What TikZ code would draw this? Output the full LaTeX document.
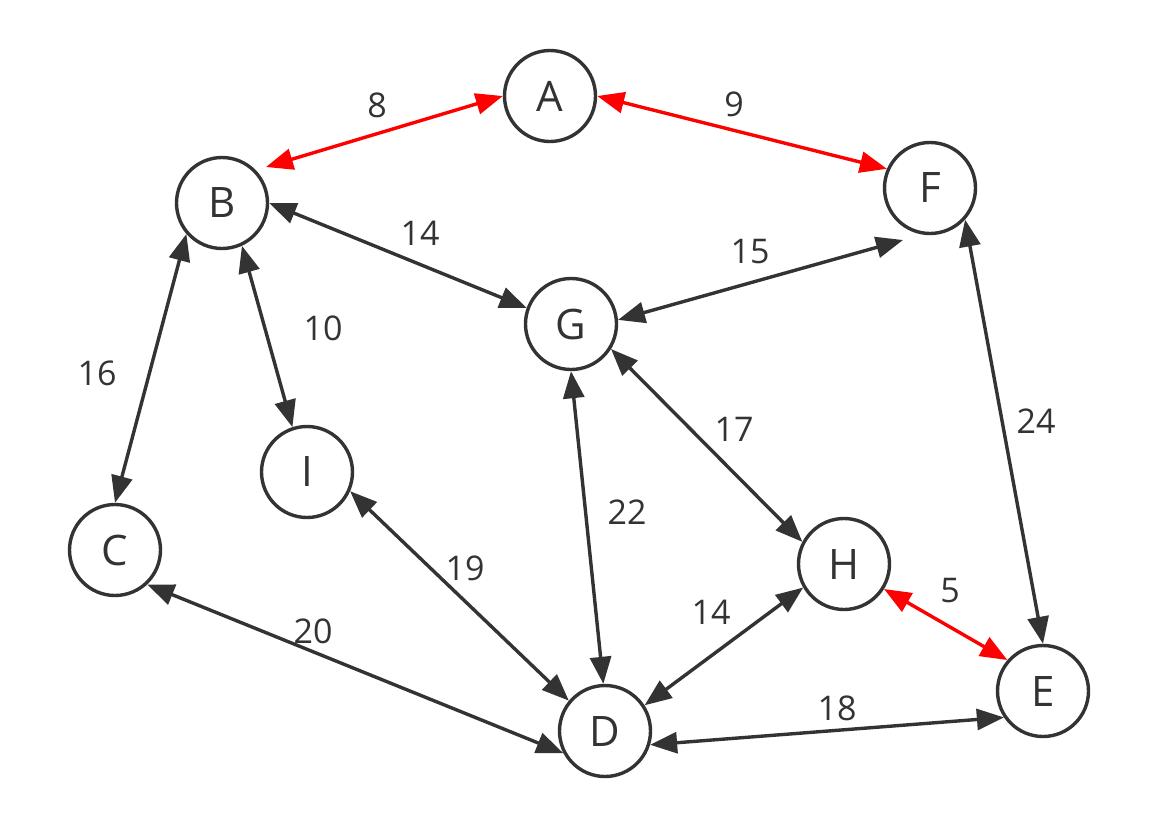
\documentclass[tikz,border=0pt]{standalone}
\usepackage{fontspec}
\setmainfont{Open Sans}
\usetikzlibrary{arrows.meta}
\definecolor{ink}{HTML}{333333}
\definecolor{hot}{HTML}{FF0000}
\begin{document}
\begin{tikzpicture}[x=1pt,y=-1pt,
  vert/.style={circle, draw=ink, line width=3.4pt, minimum size=91pt, inner sep=0pt, text=ink, font=\fontsize{42}{42}\selectfont},
  lbl/.style={text=ink, font=\fontsize{34}{34}\selectfont, inner sep=0pt},
  link/.style={draw=ink, line width=3.4pt, {Triangle[length=27pt,width=21pt]}-{Triangle[length=27pt,width=21pt]}},
  hotlink/.style={link, draw=hot}]
\useasboundingbox[fill=white] (0,0) rectangle (1154,828);
% vertices
\node[vert] (A) at (550,96) {A};
\node[vert] (B) at (222,203) {B};
\node[vert] (F) at (930,188) {F};
\node[vert] (G) at (571,324) {G};
\node[vert] (I) at (307,472) {I};
\node[vert] (C) at (115,550) {C};
\node[vert] (H) at (844,564) {H};
\node[vert] (D) at (605,731) {D};
\node[vert] (E) at (1043,691) {E};
% free ends
\coordinate (ba) at (266,167);
\coordinate (fg) at (903,240);
% edges
\draw[hotlink] (ba) -- (A.180);
\draw[hotlink] (A.0) -- (F.156);
\draw[link] (B.0) -- (G.160);
\draw[link] (G.5) -- (fg);
\draw[link] (B.221) -- (C.90);
\draw[link] (B.-65) -- (I.108);
\draw[link] (G.-90) -- (D.92);
\draw[link] (G.-32) -- (H.152);
\draw[link] (F.-42) -- (E.90);
\draw[link] (C.-47) -- (D.208);
\draw[link] (I.-24) -- (D.140);
\draw[link] (H.210) -- (D.33);
\draw[link] (D.-17) -- (E.-146);
\draw[hotlink] (H.-32) -- (E.139);
% labels
\node[lbl] (l8) at (377,105) {8};
\node[lbl] (l9) at (734,104) {9};
\node[lbl] (l14a) at (420,233) {14};
\node[lbl] (l15) at (750,252) {15};
\node[lbl] (l10) at (323,328) {10};
\node[lbl] (l16) at (97,373) {16};
\node[lbl] (l17) at (734,429) {17};
\node[lbl] (l24) at (1036,421) {24};
\node[lbl] (l22) at (627,512) {22};
\node[lbl] (l19) at (465,568) {19};
\node[lbl] (l20) at (313,631) {20};
\node[lbl] (l14b) at (711,612) {14};
\node[lbl] (l5) at (950,591) {5};
\node[lbl] (l18) at (837,708) {18};
\end{tikzpicture}
\end{document}
